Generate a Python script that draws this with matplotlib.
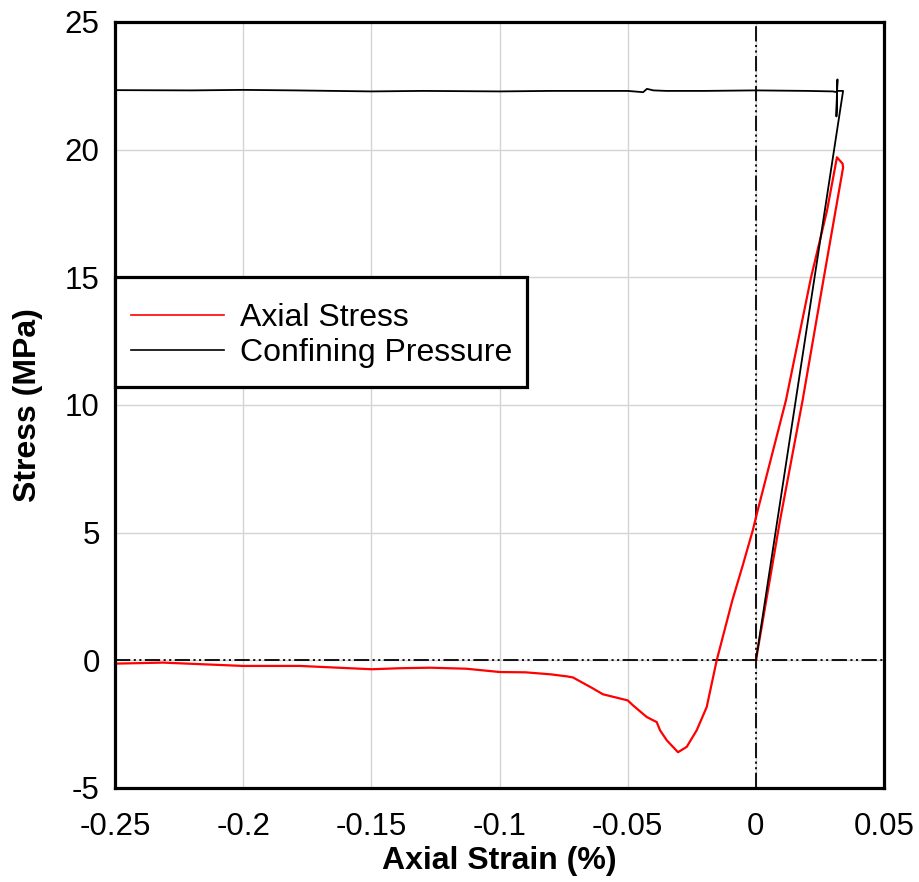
import matplotlib
matplotlib.use('Agg')
import matplotlib.pyplot as plt
from matplotlib.patches import Rectangle

plt.rcParams['font.family'] = ['Liberation Sans', 'DejaVu Sans']
plt.rcParams['lines.scale_dashes'] = False
plt.rcParams['axes.unicode_minus'] = False

# axial stress path: loading up, small loop at the top, unloading down and on to large negative strain
axial_strain = [0.0, 0.0094, 0.0182, 0.0265, 0.0340, 0.0338, 0.0316,
                0.0277, 0.0215, 0.0117, 0.0, -0.0012, -0.0052, -0.0092,
                -0.0153, -0.0192, -0.0231, -0.0270, -0.0304, -0.0348,
                -0.0374, -0.0387, -0.0426, -0.0480, -0.0500, -0.0597,
                -0.0636, -0.0714, -0.0737, -0.0800, -0.0900, -0.0998,
                -0.1129, -0.1271, -0.1388, -0.1498, -0.1780, -0.2001,
                -0.2313, -0.2500]
axial_stress = [0.0, 5.48, 10.18, 15.0, 19.3, 19.45, 19.7,
                17.6, 15.0, 10.18, 5.6, 5.1, 3.7, 2.35,
                0.0, -1.83, -2.74, -3.39, -3.6, -3.13,
                -2.74, -2.42, -2.22, -1.76, -1.57, -1.33,
                -1.10, -0.67, -0.63, -0.55, -0.47, -0.46,
                -0.33, -0.29, -0.31, -0.35, -0.22, -0.22,
                -0.09, -0.13]

# confining pressure: ramp up, spike at the top, then flat back to -0.25 %
conf_strain = [0.0, 0.0340, 0.0316, 0.0318, 0.0314, 0.0316, 0.030, 0.02,
               0.01, 0.0, -0.02, -0.035, -0.040, -0.0425, -0.0440, -0.05,
               -0.08, -0.10, -0.13, -0.15, -0.18, -0.20, -0.22, -0.25]
conf_pressure = [0.0, 22.3, 22.3, 22.75, 21.3, 22.25, 22.28, 22.3,
                 22.31, 22.32, 22.3, 22.3, 22.32, 22.38, 22.25, 22.3,
                 22.3, 22.28, 22.3, 22.28, 22.32, 22.34, 22.32, 22.33]

x_ticks = [-0.25, -0.2, -0.15, -0.1, -0.05, 0, 0.05]
x_labels = ['-0.25', '-0.2', '-0.15', '-0.1', '-0.05', '0', '0.05']
y_ticks = [-5, 0, 5, 10, 15, 20, 25]

fig = plt.figure(figsize=(9.2, 8.82), dpi=100)
ax = fig.add_axes([0.125, 0.1066, 0.836, 0.8685])

ax.grid(True, color='#d4d4d4', lw=1.0)
ax.set_axisbelow(True)

dashdotdot = (0, (11, 2.5, 1.5, 2.5, 1.5, 2.5))
ax.axhline(0, color='k', lw=1.3, linestyle=dashdotdot, zorder=1.5)
ax.axvline(0, color='k', lw=1.3, linestyle=dashdotdot, zorder=1.5)

ax.plot(axial_strain, axial_stress, color='#ff0000', lw=1.6, label='Axial Stress')
ax.plot(conf_strain, conf_pressure, color='k', lw=1.3, label='Confining Pressure')

ax.set_xlim(-0.25, 0.05)
ax.set_ylim(-5, 25)
ax.set_xticks(x_ticks)
ax.set_xticklabels(x_labels)
ax.set_yticks(y_ticks)
ax.tick_params(axis='both', length=0, labelsize=22.5)
ax.tick_params(axis='x', pad=17)
ax.tick_params(axis='y', pad=11)

for s in ax.spines.values():
    s.set_linewidth(2.3)

ax.set_xlabel('Axial Strain (%)', fontsize=23, fontweight='bold', labelpad=3)
ax.set_ylabel('Stress (MPa)', fontsize=23, fontweight='bold', labelpad=16)

# legend box drawn by hand so the padding matches the original
box = Rectangle((0.0, 0.5235), 0.5358, 0.1435, transform=ax.transAxes,
                facecolor='white', edgecolor='k', lw=2.3, zorder=4.9, clip_on=False)
ax.add_patch(box)
leg = ax.legend(loc='center left', bbox_to_anchor=(0.0208, 0.5907), borderaxespad=0,
                fontsize=23, frameon=False, handlelength=2.9, handletextpad=0.5,
                labelspacing=0.15, borderpad=0)
for line in leg.get_lines():
    line.set_linewidth(1.2)

plt.savefig('out.png', dpi=100)
